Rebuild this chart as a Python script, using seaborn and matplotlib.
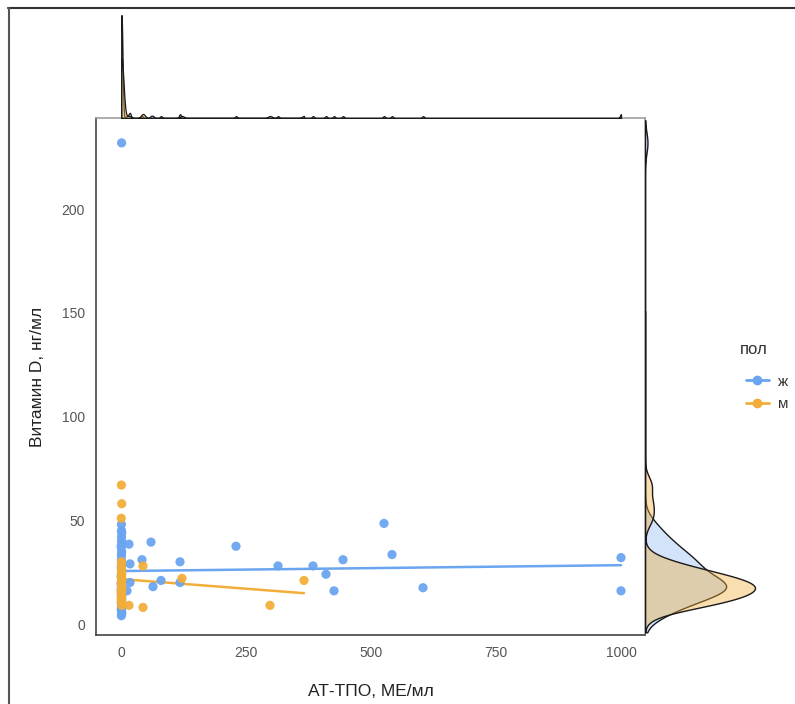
import numpy as np
import pandas as pd
import matplotlib
matplotlib.use("Agg")
import matplotlib.pyplot as plt
from matplotlib.lines import Line2D
import seaborn as sns

# Data (many points overlap in the column at x ~ 0)
# women (ж)
f_tpo = [1.2, 0.8, 1.5, 1.0, 0.5, 1.1, 0.8, 0.9, 1.2, 1.4, 0.6, 1.0, 1.1, 0.8, 0.7, 1.6, 1.5,
         0.4, 1.3, 1.0, 0.9, 1.2, 1.5, 0.8, 1.4, 1.0, 0.6, 1.0, 0.9, 0.5, 1.2, 1.6, 0.7,
         0.9, 1.1, 0.6, 1.3, 0.8, 1.0, 1.4, 0.5, 1.2, 0.7, 1.0, 1.5, 0.9, 0.6, 1.1, 1.3, 0.8,
         1.0, 0.7, 1.2, 0.9, 1.4,
         16, 18, 18, 12, 42, 60, 64, 80, 118, 118, 230, 314, 384, 410, 426, 444, 526, 542, 604,
         1000, 1000]
f_vitd = [232, 48, 44, 40, 37, 34, 31, 28, 26, 24, 23, 22, 21, 20, 19, 18, 18, 17, 17, 16,
          15, 15, 14, 13, 12, 11, 10, 9, 8, 7, 6, 5, 4,
          45, 42, 38, 35, 33, 30, 29, 27, 25, 24, 22, 21, 20, 19, 18, 17, 16, 15, 14, 12, 10, 8,
          38.5, 29, 20, 16, 31, 39.5, 18, 21, 30, 20, 37.5, 28, 28, 24, 16, 31, 48.5, 33.5, 17.5,
          32, 16]
# men (м)
m_tpo = [0.8, 1.5, 0.5, 1.0, 1.0, 1.3, 0.6, 1.2, 1.4, 0.9, 1.1, 0.7, 1.1, 0.8, 0.5, 1.4, 1.2,
         0.9, 1.0, 0.6, 1.3, 0.8, 1.1, 0.7, 1.2, 1.0, 0.9, 1.4, 0.6, 1.0,
         16, 44, 44, 122, 298, 366]
m_vitd = [67, 58, 51, 30, 26, 22, 20, 18, 17, 16, 16, 15, 14, 13, 12, 10, 9,
          28, 25, 23, 21, 20, 19, 15, 13, 24, 11, 17, 16, 20,
          9, 8, 28, 22, 9, 21]

groups = ["ж", "м"]
colors = {"ж": "#6aa5f0", "м": "#f2ae3a"}
fill_alpha = {"ж": 0.3, "м": 0.4}
top_bw = {"ж": 2.0, "м": 4.0}
side_bw = {"ж": 5.0, "м": 4.2}

df = pd.concat([
    pd.DataFrame({"tpo": f_tpo, "vitd": f_vitd, "пол": "ж"}),
    pd.DataFrame({"tpo": m_tpo, "vitd": m_vitd, "пол": "м"}),
], ignore_index=True)

sns.set_style("white")
plt.rcParams["font.family"] = ["Liberation Sans", "DejaVu Sans"]

W, H = 795, 704
fig = plt.figure(figsize=(W / 100, H / 100), dpi=100)

def fx(px):
    return px / W

def fy(py):
    return 1 - py / H

# main panel
ax = fig.add_axes([fx(96), fy(635), fx(645) - fx(96), fy(118) - fy(635)])
sns.scatterplot(data=df, x="tpo", y="vitd", hue="пол", palette=colors, s=44,
                edgecolor="none", alpha=0.95, legend=False, ax=ax, zorder=3)
for g in groups:
    sub = df[df["пол"] == g]
    sns.regplot(data=sub, x="tpo", y="vitd", scatter=False, ci=None, color=colors[g],
                line_kws=dict(lw=1.8), ax=ax, truncate=True)

ax.set_xlim(-50, 1048)
ax.set_ylim(-5.3, 244)
ax.set_xticks([0, 250, 500, 750, 1000])
ax.set_yticks([0, 50, 100, 150, 200])
ax.set_xlabel("АТ-ТПО, МЕ/мл", fontsize=12.5, color="#222222", labelpad=17)
ax.set_ylabel("Витамин D, нг/мл", fontsize=12.5, color="#222222", labelpad=12)
ax.tick_params(axis="both", direction="out", length=4, width=1, color="#333333",
               labelsize=10, labelcolor="#555555", pad=4)
for side in ["left", "bottom"]:
    ax.spines[side].set_color("#444444")
    ax.spines[side].set_linewidth(1.2)
for side in ["top", "right"]:
    ax.spines[side].set_color("#a0a0a0")
    ax.spines[side].set_linewidth(1.2)

# top marginal: density of AT-TPO
axt = fig.add_axes([fx(96), fy(118), fx(645) - fx(96), fy(10) - fy(118)])
for g in groups:
    sub = df[df["пол"] == g]
    sns.kdeplot(x=sub["tpo"], ax=axt, fill=True, color=colors[g], alpha=fill_alpha[g],
                edgecolor="#1a1a1a", linewidth=0.9, cut=0, gridsize=4000,
                bw_method=top_bw[g] / np.std(sub["tpo"], ddof=1))
axt.set_xlim(ax.get_xlim())
ymax = axt.dataLim.y1
axt.set_ylim(0, ymax * 108 / 103)
axt.axis("off")

# right marginal: density of vitamin D, over the whole axis range
axr = fig.add_axes([fx(645), fy(635), fx(790) - fx(645), fy(118) - fy(635)])
for g in groups:
    sub = df[df["пол"] == g]
    sns.kdeplot(y=sub["vitd"], ax=axr, fill=True, color=colors[g], alpha=fill_alpha[g],
                edgecolor="#1a1a1a", linewidth=1.0, cut=20, clip=(-4, 243),
                gridsize=1000,
                bw_method=side_bw[g] / np.std(sub["vitd"], ddof=1))
axr.set_ylim(ax.get_ylim())
xmax = axr.dataLim.x1
axr.set_xlim(0, xmax * 145 / 110)
axr.axis("off")

# legend
fig.text(fx(740), fy(350), "пол", fontsize=12, color="#333333", ha="left", va="center")
handles = [Line2D([0], [0], color=colors[g], marker="o", markersize=6, lw=2) for g in groups]
leg = fig.legend(handles, groups, loc="upper left",
                 bbox_to_anchor=(fx(732), fy(361)), frameon=False, fontsize=11,
                 handlelength=1.5, handletextpad=0.6, labelspacing=0.55)
for t in leg.get_texts():
    t.set_color("#333333")

# screenshot frame lines
fig.add_artist(Line2D([fx(8), 1], [fy(8), fy(8)], transform=fig.transFigure,
                      color="#333333", lw=1.5))
fig.add_artist(Line2D([fx(9), fx(9)], [0, fy(8)], transform=fig.transFigure,
                      color="#555555", lw=1.5))

fig.savefig("out.png", dpi=100)
